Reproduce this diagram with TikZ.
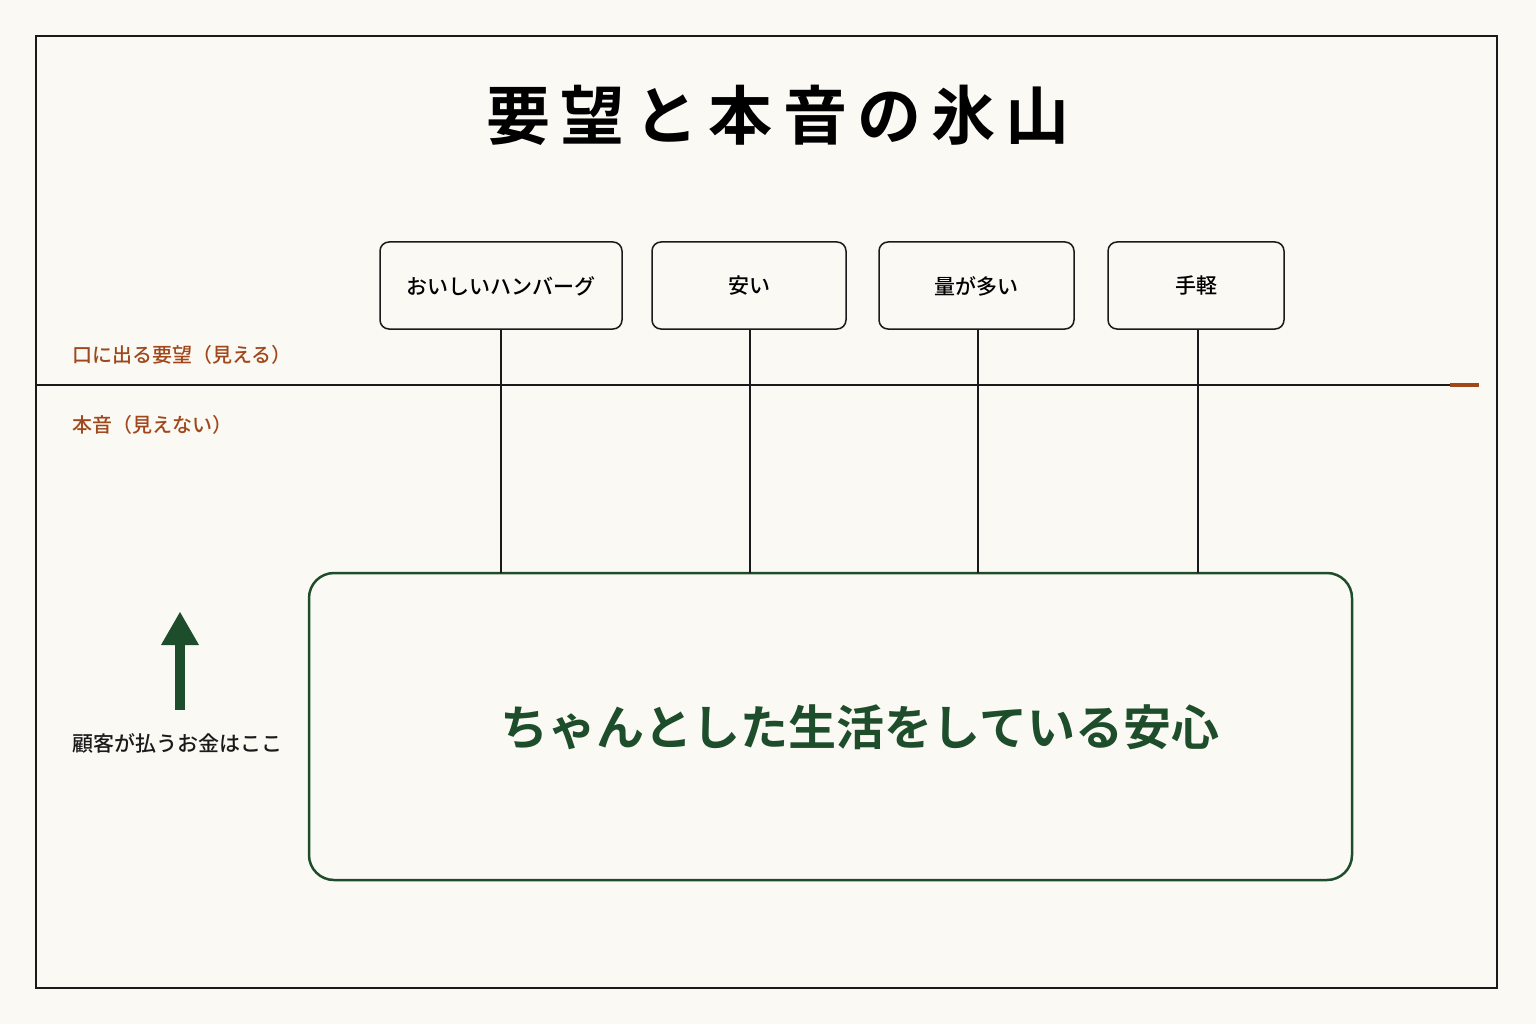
\documentclass[tikz,border=0pt]{standalone}
\usepackage{fontspec}
\newfontfamily\cjk{Noto Sans CJK JP Medium}
\newfontfamily\cjkb{Noto Sans CJK JP Bold}
\definecolor{bg}{HTML}{FBF9F4}
\definecolor{grn}{HTML}{1E4D2B}
\definecolor{brn}{HTML}{A0481C}
\definecolor{ink}{HTML}{1A1A1A}
\begin{document}
\begin{tikzpicture}[x=1pt,y=-1pt,
  wish/.style={draw=ink,line width=1.5pt,rounded corners=9pt,fill=bg},
  lab/.style={font=\cjk\fontsize{20}{24}\selectfont,text=brn,anchor=west,inner sep=0},
  conn/.style={draw=ink,line width=1.4pt}]
\useasboundingbox (0,0) rectangle (1536,1024);
\fill[bg] (0,0) rectangle (1536,1024);
\draw[ink,line width=1.8pt] (36,36) rectangle (1497,988);
\node (title) at (778,115) {\cjkb\fontsize{64}{70}\selectfont 要\hspace{0.16em}望\hspace{0.16em}と\hspace{0.16em}本\hspace{0.16em}音\hspace{0.16em}の\hspace{0.16em}氷\hspace{0.16em}山};
\foreach \n/\a/\b/\t in {b1/380/622/おいしいハンバーグ, b2/652/846/安い, b3/879/1074/量が多い, b4/1108/1284/手軽}{
  \draw[wish] (\a,242) rectangle (\b,329);
  \node (\n) at ({(\a+\b)/2},286) {\cjk\fontsize{21}{24}\selectfont \t};
}
\coordinate (l1) at (36,385); \coordinate (l2) at (1450,385); \coordinate (l3) at (1479,385);
\draw[ink,line width=1.3pt] (l1) -- (l2);
\draw[brn,line width=4pt] (l2) -- (l3);
\node[lab] (see) at (72,355) {口に出る要望（見える）};
\node[lab] (hide) at (72,425) {本音（見えない）};
\node[draw=grn,line width=2.5pt,rounded corners=25pt,minimum width=1043pt,minimum height=307pt,fill=bg] (core) at (830.5,726.5) {};
\node[text=grn] (coretxt) at (860,727) {\cjkb\fontsize{48}{52}\selectfont ちゃんとした生活をしている安心};
\foreach \x in {501,750,978,1198}{\draw[conn] (\x,330) -- (\x,573);}
\fill[grn] (175,710) rectangle (185,643);
\fill[grn] (161,645) -- (199,645) -- (180,612) -- cycle;
\node[anchor=west,inner sep=0,text=ink] (pay) at (72,743) {\cjk\fontsize{21}{24}\selectfont 顧客が払うお金はここ};
\end{tikzpicture}
\end{document}
